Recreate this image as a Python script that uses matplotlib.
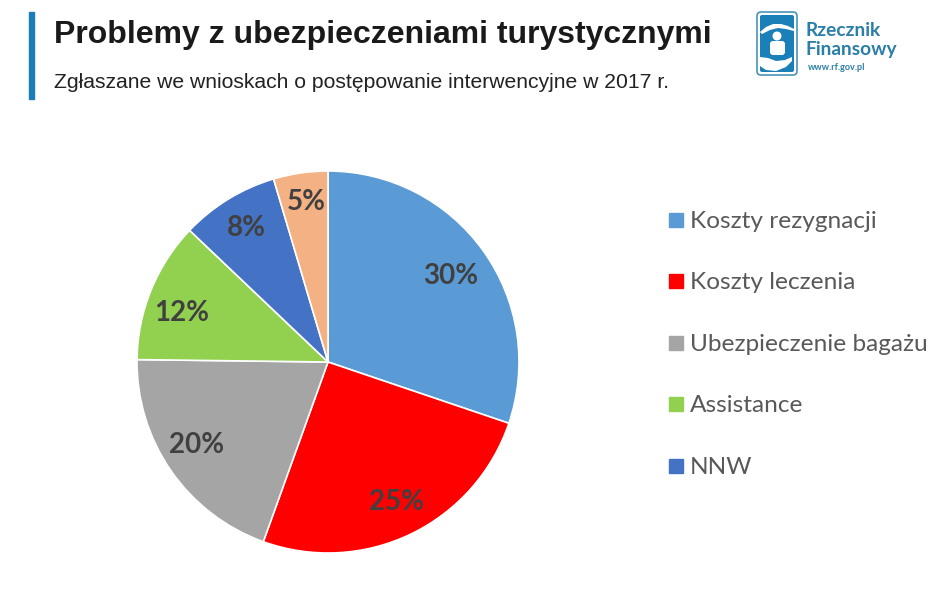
import matplotlib
matplotlib.use('Agg')
import matplotlib.pyplot as plt
from matplotlib.patches import Rectangle, FancyBboxPatch, Circle, Polygon

plt.rcParams['font.family'] = ['Lato', 'DejaVu Sans']

labels = ['Koszty rezygnacji', 'Koszty leczenia', 'Ubezpieczenie bagażu', 'Assistance', 'NNW']
values = [30.2, 25.3, 19.7, 11.9, 8.3, 4.6]
pct_labels = ['30%', '25%', '20%', '12%', '8%', '5%']
colors = ['#5b9bd5', '#ff0000', '#a5a5a5', '#92d050', '#4472c4', '#f4b183']
title = 'Problemy z ubezpieczeniami turystycznymi'
subtitle = 'Zgłaszane we wnioskach o postępowanie interwencyjne w 2017 r.'

W, H = 948, 593
fig = plt.figure(figsize=(W/100, H/100), dpi=100)
bg = fig.add_axes([0, 0, 1, 1])
bg.set_xlim(0, W)
bg.set_ylim(H, 0)
bg.axis('off')

# header
bg.add_patch(Rectangle((29, 12), 5, 87, color='#1a7db8'))
bg.text(54, 35, title, fontsize=23, fontweight='bold', family='Liberation Sans', va='center', color='#1a1a1a')
bg.text(54, 83, subtitle, fontsize=15.25, family='Liberation Sans', va='center', color='#222222')

# logo
blue = '#1b7fb8'
bg.add_patch(FancyBboxPatch((757, 12), 40, 63, boxstyle='round,pad=0,rounding_size=4', fc='white', ec='#4a94b8', lw=1.2))
bg.add_patch(FancyBboxPatch((760, 15), 34, 57, boxstyle='round,pad=0,rounding_size=2', fc=blue, ec='none'))
bg.add_patch(Polygon([(760, 32), (766, 27), (773, 24), (781, 24), (788, 26), (794, 29), (794, 31),
                      (786, 29), (778, 28), (770, 30), (762, 34)], fc='white', ec='none'))
bg.add_patch(Circle((777, 36), 3.8, color='white'))
bg.add_patch(FancyBboxPatch((770, 41), 15, 14, boxstyle='round,pad=0,rounding_size=3', fc='white', ec='none'))
bg.add_patch(Polygon([(760, 57), (768, 58), (776, 61), (785, 60), (792, 57), (792, 61), (786, 67),
                      (776, 71), (766, 70), (760, 66)], fc='white', ec='none'))
bg.text(806, 30, 'Rzecznik', fontsize=13.8, fontweight='bold', va='center', color='#2a7ea8')
bg.text(806, 49, 'Finansowy', fontsize=13.8, fontweight='bold', va='center', color='#2a7ea8')
bg.text(808, 68, 'www.rf.gov.pl', fontsize=6.6, fontweight='bold', va='center', color='#2a7ea8')

# pie, centre about (328,362) radius 191
ax = fig.add_axes([137/W, 1-553/H, 382/W, 382/H])
wedges, _ = ax.pie(values, colors=colors, startangle=90, counterclock=False, radius=1,
                   wedgeprops=dict(edgecolor='white', linewidth=1.2))
ax.set_xlim(-1, 1)
ax.set_ylim(-1, 1)

label_px = [(451, 276), (397, 502), (197, 445), (182, 313), (246, 228), (306, 202)]
for txt, (px, py) in zip(pct_labels, label_px):
    bg.text(px, py, txt, fontsize=20, fontweight='bold', ha='center', va='center', color='#404040', zorder=5)
ax.set_zorder(1)
bg.set_zorder(2)
bg.patch.set_alpha(0)

# legend
leg_y = [220, 281, 343, 404, 466]
for name, col, y in zip(labels, colors[:5], leg_y):
    bg.add_patch(Rectangle((669, y-7), 14, 14, color=col))
    bg.text(690, y+1.5, name, fontsize=17.6, va='center', color='#595959')

fig.savefig('out.png', dpi=100)
